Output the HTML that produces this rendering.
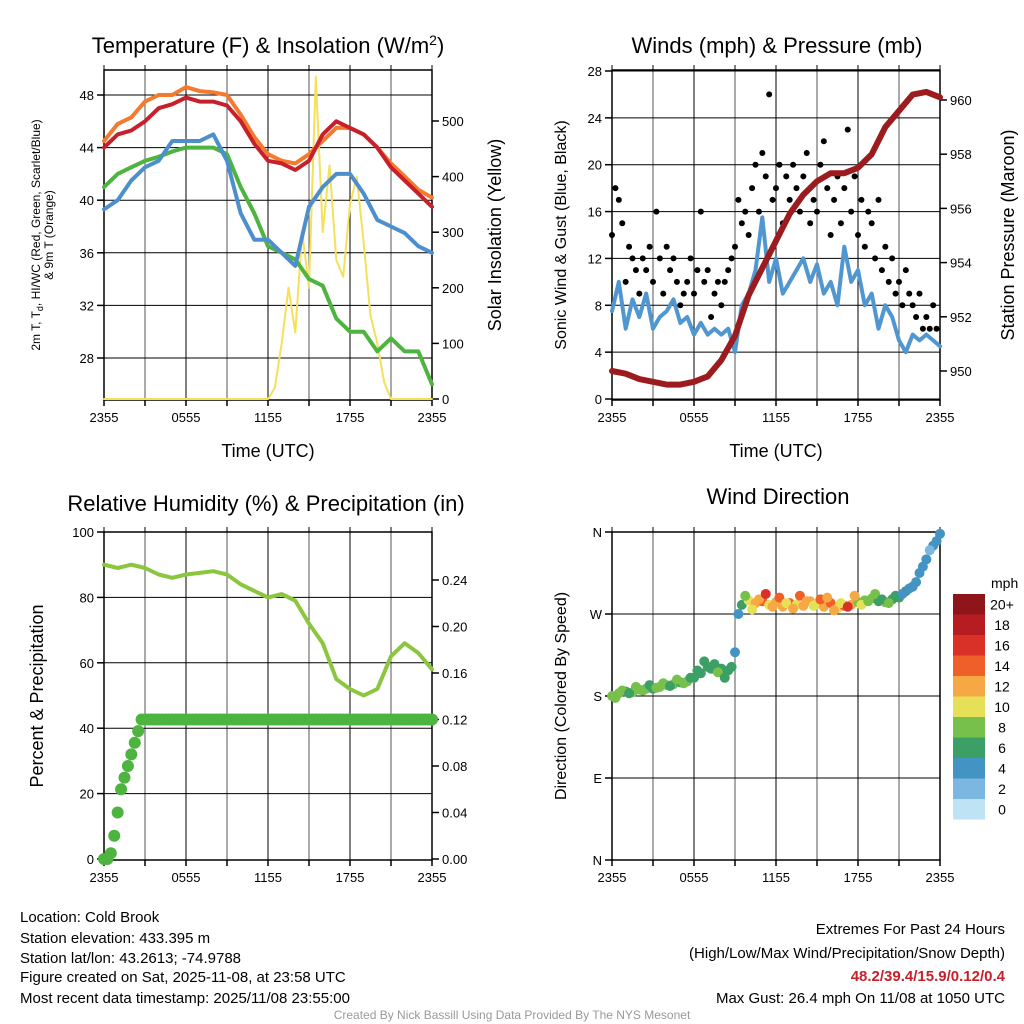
<!DOCTYPE html>
<html><head><meta charset="utf-8">
<style>
html,body{margin:0;padding:0;background:#fff;}
svg{display:block;font-family:"Liberation Sans",Arial,sans-serif;}
</style></head>
<body>
<svg id="chart" width="1024" height="1024" viewBox="0 0 1024 1024" xmlns="http://www.w3.org/2000/svg">
<rect width="1024" height="1024" fill="#fff"/>
<g id="g1"></g>
<g id="g2"></g>
<g id="g3"></g>
<g id="g4"></g>

<text x="268" y="53" font-size="22" text-anchor="middle">Temperature (F) &amp; Insolation (W/m<tspan dy="-8" font-size="14">2</tspan><tspan dy="8">)</tspan></text>
<text x="777" y="53" font-size="22" text-anchor="middle">Winds (mph) &amp; Pressure (mb)</text>
<text x="266" y="511" font-size="22" text-anchor="middle">Relative Humidity (%) &amp; Precipitation (in)</text>
<text x="778" y="504" font-size="22" text-anchor="middle">Wind Direction</text>

<text x="268" y="457" font-size="18" text-anchor="middle">Time (UTC)</text>
<text x="776" y="457" font-size="18" text-anchor="middle">Time (UTC)</text>

<text transform="translate(40,235) rotate(-90)" font-size="12" text-anchor="middle">2m T, T<tspan dy="3" font-size="9">d</tspan><tspan dy="-3">, HI/WC (Red, Green, Scarlet/Blue)</tspan></text>
<text transform="translate(53,235) rotate(-90)" font-size="12" text-anchor="middle">&amp; 9m T (Orange)</text>
<text transform="translate(501,235) rotate(-90)" font-size="18" text-anchor="middle">Solar Insolation (Yellow)</text>
<text transform="translate(566,235) rotate(-90)" font-size="16" text-anchor="middle">Sonic Wind &amp; Gust (Blue, Black)</text>
<text transform="translate(1014,235) rotate(-90)" font-size="18" text-anchor="middle">Station Pressure (Maroon)</text>
<text transform="translate(43,696) rotate(-90)" font-size="18" text-anchor="middle">Percent &amp; Precipitation</text>
<text transform="translate(566,696) rotate(-90)" font-size="16" text-anchor="middle">Direction (Colored By Speed)</text>

<g font-size="15">
<text x="20" y="922">Location: Cold Brook</text>
<text x="20" y="943">Station elevation: 433.395 m</text>
<text x="20" y="963">Station lat/lon: 43.2613; -74.9788</text>
<text x="20" y="982">Figure created on Sat, 2025-11-08, at 23:58 UTC</text>
<text x="20" y="1003">Most recent data timestamp: 2025/11/08 23:55:00</text>
</g>
<g font-size="15" text-anchor="end">
<text x="1005" y="934">Extremes For Past 24 Hours</text>
<text x="1005" y="958">(High/Low/Max Wind/Precipitation/Snow Depth)</text>
<text x="1005" y="981" fill="#c8202a" font-weight="bold">48.2/39.4/15.9/0.12/0.4</text>
<text x="1005" y="1003">Max Gust: 26.4 mph On 11/08 at 1050 UTC</text>
</g>
<text x="512" y="1019" font-size="12" fill="#999" text-anchor="middle">Created By Nick Bassill Using Data Provided By The NYS Mesonet</text>
</svg>
<script>
// ---- data (hour offsets from 2355 UTC) ----
const xTickLabels = ["2355","0555","1155","1755","2355"];
const tempRed = [44,45,45.3,46,47,47.3,47.8,47.5,47.5,47.2,46,44.3,43,42.8,42.3,43,45,46,45.5,45,44,42.5,41.5,40.5,39.5];
const temp9m = [44.5,45.8,46.3,47.5,48,48,48.6,48.3,48.2,48,46.5,44.8,43.5,43,42.8,43.5,44.5,45.5,45.5,45,44,42.8,41.8,40.8,40.2];
const wchillBlue = [39.3,40,41.5,42.5,43,44.5,44.5,44.5,45,43,39,37,37,36,35,39.5,41,42,42,40.5,38.5,38,37.5,36.5,36];
const dewGreen = [41,42,42.5,43,43.3,43.7,44,44,44,43.5,41,39,36.5,36,35.5,34,33.5,31,30,30,28.5,29.5,28.5,28.5,26];
const insolation = [0,0,0,0,0,0,0,0,0,0,0,0,0,0,0,0,0,0,0,0,0,0,0,0,0,20,100,200,120,300,200,580,300,420,250,220,350,400,280,150,100,30,0,0,0,0,0,0,0];
const tempTicks = [28,32,36,40,44,48];
const solarTicks = [0,100,200,300,400,500];

const windSpeed = [7.5,10,6,8.5,7,9,6,7,7.5,8.5,6.5,7,5.5,6.5,5.5,6,5.5,6,4,8,9,11,15.5,10,12,9,10,11,12,10,11.5,9,10,8,13,10,11,8,9,6,8,7,5,4,5.5,5,5.5,5,4.5];
const windGust = [14,18,17,15,10,13,12,11,9,12,11,13,10,16,12,9,13,11,12,10,8,9,10,12,9,11,16,10,11,7,9,10,8,10,11,12,13,17,15,16,14,18,20,16,21,19,26,17,18,20,15,19,17,20,18,16,19,21,15,17,16,20,22,18,14,17,19,15,18,23,16,19,14,17,13,16,15,12,17,11,13,10,12,9,10,8,11,9,8,7,9,6,7,6,8,6];
const pressure = [950,949.9,949.7,949.6,949.5,949.5,949.6,949.8,950.4,951.3,952.8,953.8,954.8,955.8,956.5,957,957.3,957.3,957.5,958,959,959.6,960.2,960.3,960.1];
const windTicks = [0,4,8,12,16,20,24,28];
const pressTicks = [950,952,954,956,958,960];

const rhValues = [90,89,90,89,87,86,87,87.5,88,87,84,82,80,81,79,72,66,55,52,50,52,62,66,63,58];
const precip = [0,0,0.005,0.02,0.04,0.06,0.07,0.08,0.09,0.10,0.11,0.12,0.12,0.12,0.12,0.12,0.12,0.12,0.12,0.12,0.12,0.12,0.12,0.12,0.12,0.12,0.12,0.12,0.12,0.12,0.12,0.12,0.12,0.12,0.12,0.12,0.12,0.12,0.12,0.12,0.12,0.12,0.12,0.12,0.12,0.12,0.12,0.12,0.12,0.12,0.12,0.12,0.12,0.12,0.12,0.12,0.12,0.12,0.12,0.12,0.12,0.12,0.12,0.12,0.12,0.12,0.12,0.12,0.12,0.12,0.12,0.12,0.12,0.12,0.12,0.12,0.12,0.12,0.12,0.12,0.12,0.12,0.12,0.12,0.12,0.12,0.12,0.12,0.12,0.12,0.12,0.12,0.12,0.12,0.12,0.12,0.12];
const rhTicks = [0,20,40,60,80,100];
const precipTicks = ["0.00","0.04","0.08","0.12","0.16","0.20","0.24"];

const direction = [180,183,185,184,187,188,188,190,192,193,195,196,200,205,212,215,210,208,228,280,285,282,284,280,283,278,282,280,279,284,281,278,282,276,279,280,283,285,287,284,283,286,288,295,300,315,330,345,358];
const dirSpeedA = [9,8,7,8,9,8,7,8,9,8,7,8,7,6,7,6,7,6,4,7,10,12,15,11,13,12,14,10,12,13,11,12,14,10,15,12,9,8,9,7,8,6,7,6,5,4,4,4,4];
const directionB = [178,186,183,190,186,192,189,194,191,198,194,200,208,218,210,206,200,212,270,290,275,286,292,278,288,282,276,290,284,279,286,288,274,282,278,290,280,284,292,286,282,290,292,298,305,322,340,350];
const dirSpeedB = [8,9,7,8,9,7,8,8,7,9,8,7,6,7,6,8,6,6,5,9,11,13,16,12,14,11,13,15,12,10,14,12,13,11,16,12,10,9,8,7,8,6,5,4,4,4,3,4];
const dirTickLabels = ["N","E","S","W","N"];
const speedBinLabels = ["0","2","4","6","8","10","12","14","16","18","20+"];
const speedBinColors = ["#bde3f5","#7bb7e1","#4393c3","#3c9f65","#77c04c","#e6e059","#f6a845","#ef5f2a","#d93128","#b71c22","#8e1519"];

// ---- helpers ----
const NS = "http://www.w3.org/2000/svg";
function mk(parent, tag, attrs){ const e=document.createElementNS(NS,tag); for(const k in attrs) e.setAttribute(k,attrs[k]); parent.appendChild(e); return e; }
function scale(d0,d1,r0,r1){ return v => r0 + (v-d0)*(r1-r0)/(d1-d0); }

function frame(g, L, T, R, B, yvals, ysc, hgridLines){
  const xs = scale(0,24,L,R);
  for(let h=0; h<=24; h+=3){
    const ln = mk(g,'line',{x1:xs(h),x2:xs(h),y1:T,y2:B,stroke:(h%6===0)?'#000':'#555','stroke-width':1});
    
    
    mk(g,'line',{x1:xs(h),x2:xs(h),y1:T-5,y2:T,stroke:'#000'});
    mk(g,'line',{x1:xs(h),x2:xs(h),y1:B,y2:B+6,stroke:'#000','stroke-width':1.5});
  }
  hgridLines.forEach(v=>{
    const ln = mk(g,'line',{x1:L,x2:R,y1:ysc(v),y2:ysc(v),stroke:'#000','stroke-width':1});
    
    
  });
  const box = mk(g,'rect',{x:L,y:T,width:R-L,height:B-T,fill:'none',stroke:'#000','stroke-width':1.5});
  
  
  xTickLabels.forEach((lab,i)=>{
    const x = xs(i*6);
    const t = mk(g,'text',{x:x,y:B+22,'font-size':13,'text-anchor':'middle'});
    t.textContent = lab;
    
    
  });
  return xs;
}
function yTicks(g, x, side, labels, ysc, vals){
  vals.forEach((v,i)=>{
    const y = ysc(v);
    mk(g,'line',{x1:x,x2:x+(side<0?-7:7),y1:y,y2:y,stroke:'#000','stroke-width':1.5});
    const t = mk(g,'text',{x:x+(side<0?-10:10),y:y+5,'font-size':13,'text-anchor':side<0?'end':'start'});
    t.textContent = labels[i];
    
    
  });
}
function line(g, arr, xs, ys, step, color, w, name){
  const pts = arr.map((v,i)=>xs(i*step).toFixed(1)+','+ys(v).toFixed(1)).join(' ');
  const p = mk(g,'polyline',{points:pts,fill:'none',stroke:color,'stroke-width':w,'stroke-linejoin':'round','stroke-linecap':'round'});
  
  
}
function binColor(s){ return speedBinColors[Math.min(10,Math.max(0,Math.floor(s/2)))]; }

// ---- panel 1 ----
{
  const g = document.getElementById('g1');
  const L=104,T=70,R=432,B=400;
  const yT = scale(28,48,358,95);
  const yS = scale(0,500,399,121);
  const xs = frame(g,L,T,R,B,tempTicks,yT,tempTicks);
  yTicks(g,L,-1,tempTicks,yT,tempTicks);
  yTicks(g,R,1,solarTicks,yS,solarTicks);
  line(g,insolation,xs,yS,0.5,'#f5e05a',2,'insolation-line');
  line(g,dewGreen,xs,yT,1,'#4cb43f',4,'dewpoint-line');
  line(g,wchillBlue,xs,yT,1,'#4c8fcc',4,'windchill-line');
  line(g,temp9m,xs,yT,1,'#f47a30',4,'temp-9m-line');
  line(g,tempRed,xs,yT,1,'#c8202a',4,'temp-2m-line');
}
// ---- panel 2 ----
{
  const g = document.getElementById('g2');
  const L=612,T=70,R=940,B=400;
  const yW = scale(0,28,399,71);
  const yP = scale(950,960,371,100);
  const xs = frame(g,L,T,R,B,windTicks,yW,windTicks);
  yTicks(g,L,-1,windTicks,yW,windTicks);
  yTicks(g,R,1,pressTicks,yP,pressTicks);
  line(g,windSpeed,xs,yW,0.5,'#5096d0',4,'wind-speed-line');
  windGust.forEach((v,i)=>{
    const c = mk(g,'circle',{cx:xs(i*0.25),cy:yW(v),r:3,fill:'#000'});
    
    
  });
  line(g,pressure,xs,yP,1,'#9b1b1e',6,'pressure-line');
}
// ---- panel 3 ----
{
  const g = document.getElementById('g3');
  const L=104,T=532,R=432,B=860;
  const yR = scale(0,100,859,532);
  const yPr = scale(0,0.24,859,580);
  const xs = frame(g,L,T,R,B,rhTicks,yR,[20,40,60,80]);
  yTicks(g,L,-1,rhTicks,yR,rhTicks);
  yTicks(g,R,1,precipTicks,yPr,precipTicks.map(Number));
  precip.forEach((v,i)=>{
    const c = mk(g,'circle',{cx:xs(i*0.25),cy:yPr(v),r:6,fill:'#4cb43f'});
    
    
  });
  line(g,rhValues,xs,yR,1,'#8cc63f',4,'humidity-line');
}
// ---- panel 4 ----
{
  const g = document.getElementById('g4');
  const L=612,T=532,R=940,B=860;
  const yD = scale(0,360,860,532);
  const xs = frame(g,L,T,R,B,[90,180,270],yD,[90,180,270]);
  yTicks(g,L,-1,dirTickLabels,yD,[0,90,180,270,360]);
  direction.forEach((v,i)=>{
    const c = mk(g,'circle',{cx:xs(i*0.5),cy:yD(v),r:5,fill:binColor(dirSpeedA[i])});
    
    
  });
  directionB.forEach((v,i)=>{
    const c = mk(g,'circle',{cx:xs(i*0.5+0.25),cy:yD(v),r:5,fill:binColor(dirSpeedB[i])});
    
    
  });
  const h = 20.5, top = 594;
  const ut = mk(g,'text',{x:991,y:588,'font-size':14});
  ut.textContent='mph';
  
  
  speedBinColors.forEach((col,i)=>{
    const k = 10-i;
    const y = top + i*h;
    const r = mk(g,'rect',{x:953,y:y,width:32,height:h,fill:speedBinColors[k]});
    
    
    const t = mk(g,'text',{x:1002,y:y+h/2+5,'font-size':14,'text-anchor':'middle'});
    t.textContent = speedBinLabels[k];
    
    
  });
}
</script>
</body></html>
